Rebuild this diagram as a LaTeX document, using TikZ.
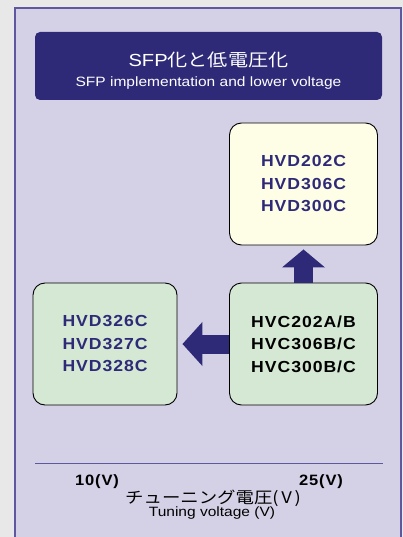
\documentclass[tikz,border=0pt]{standalone}
\usepackage{fontspec}
\setmainfont{Liberation Sans}[FakeStretch=1.15]
\newfontfamily\cjk{Noto Sans CJK JP}[FakeStretch=1.15]
\newfontfamily\partfont{Liberation Sans Bold}[FakeStretch=1.1,LetterSpace=6]
\usetikzlibrary{arrows.meta,positioning}

\definecolor{navy}{HTML}{2E2A78}
\definecolor{panelfill}{HTML}{D4D1E6}
\definecolor{panelline}{HTML}{5E58A0}
\definecolor{outerbg}{HTML}{E8E8E8}
\definecolor{upfill}{HTML}{FEFDE6}
\definecolor{lowfill}{HTML}{D4E8D4}

\begin{document}
\begin{tikzpicture}[%
    x=1pt, y=-1pt,
    node distance=160pt,
    on grid,
    partbox/.style={draw=black, line width=0.9pt, rounded corners=12pt,
      minimum width=148pt, minimum height=122pt, align=center,
      font=\fontsize{16}{22.5}\partfont},
    blockarrow/.style={draw=navy, line width=19pt,
      -{Triangle[width=42pt,length=18pt]}},
    axislabel/.style={font=\fontsize{15}{18}\partfont}
  ]
  \useasboundingbox (0,0) rectangle (403,537);
  \fill[outerbg] (0,0) rectangle (403,537);
  \draw[fill=panelfill, draw=panelline, line width=1.5pt] (15,8) rectangle (401,545);

  % title
  \node[fill=navy, rounded corners=5pt, minimum width=347pt, minimum height=68pt,
    text=white, align=center, inner sep=0pt, font=\fontsize{17.5}{20}\selectfont]
    (title) at (208.5,66)
    {\rule{0pt}{24pt}SFP{\cjk 化と低電圧化}\\
     \fontsize{13.5}{20}\selectfont SFP implementation and lower voltage};

  % parts
  \node[partbox, fill=lowfill] (hvc) at (303.5,344) {HVC202A/B\\HVC306B/C\\HVC300B/C};
  \node[partbox, fill=upfill, text=navy] (sfp) [above=of hvc] {HVD202C\\HVD306C\\HVD300C};
  \node[partbox, fill=lowfill, text=navy, minimum width=144pt] (low) [left=198.5pt of hvc]
    {HVD326C\\HVD327C\\HVD328C};

  \draw[blockarrow, shorten >=4pt] (hvc.north) -- (sfp.south);
  \draw[blockarrow, shorten >=5pt, -{Triangle[width=43pt,length=20pt]}] (hvc.west) -- (low.east);

  % voltage axis
  \coordinate (axl) at (35,463);
  \coordinate (axr) at (383,463);
  \draw[panelline, line width=1pt] (axl) -- (axr);
  \node[axislabel] (v10) at (97,482) {10(V)};
  \node[axislabel] (v25) at (321,482) {25(V)};
  \node[font=\fontsize{16}{18}\cjk] (tunjp) at (213,498.5) {チューニング電圧(\,V\,)};
  \node[font=\fontsize{13.5}{15}\selectfont] (tunen) at (212,513) {Tuning voltage (V)};
\end{tikzpicture}
\end{document}
